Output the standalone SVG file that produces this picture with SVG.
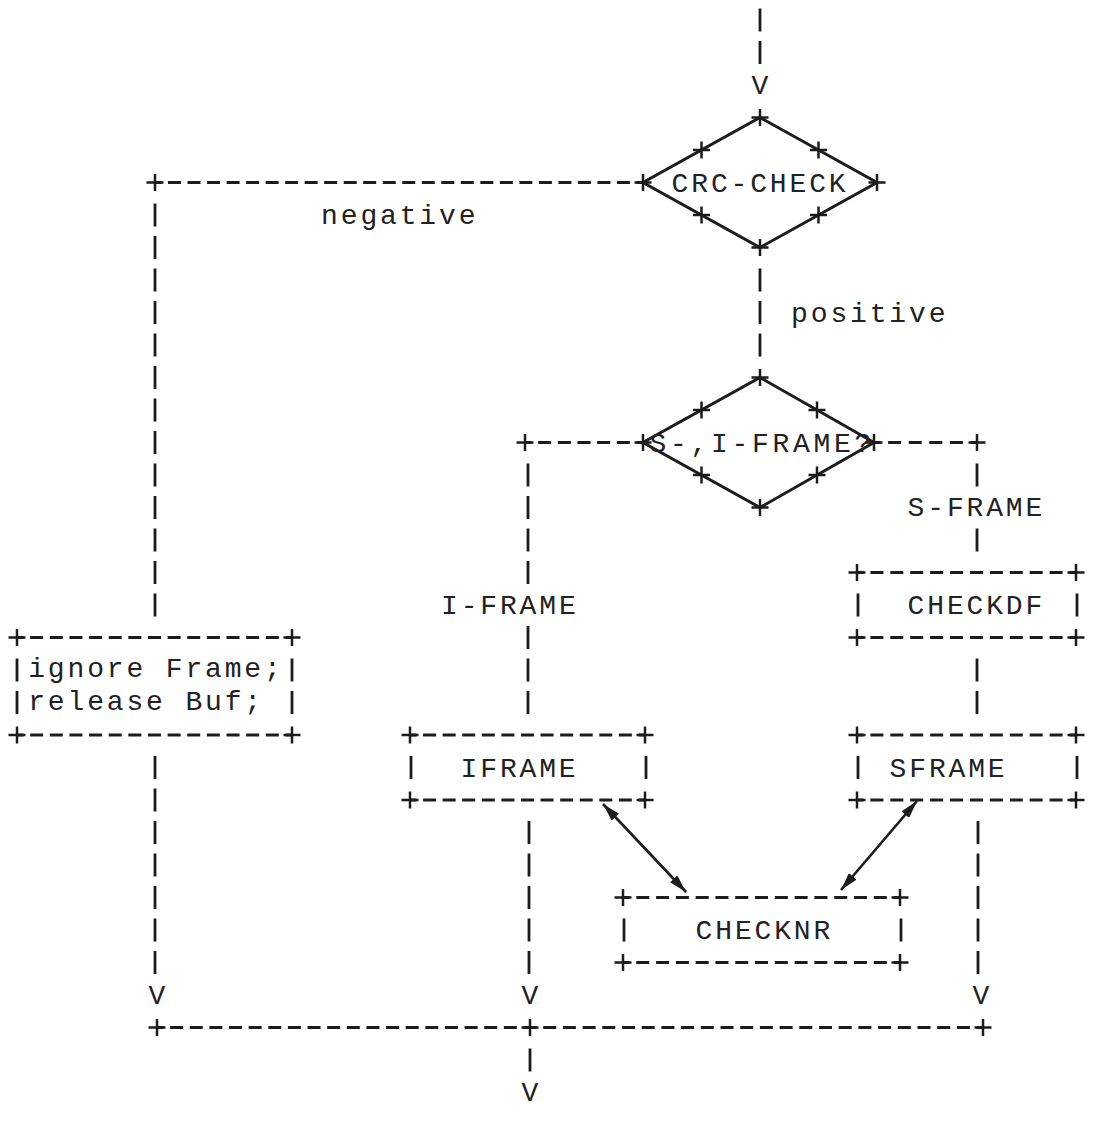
<svg xmlns="http://www.w3.org/2000/svg" xmlns:xlink="http://www.w3.org/1999/xlink" width="1094" height="1131" viewBox="0 0 1094 1131">
<style>
.ln{stroke:#1c1c1c;stroke-width:2.8;fill:none}
.v{stroke:#1c1c1c;stroke-width:2.8;fill:none;stroke-dasharray:23 9.5}
.bar{stroke:#1c1c1c;stroke-width:2.8}
.pl{stroke:#1c1c1c;stroke-width:2.5;fill:none}
.dia{stroke:#1c1c1c;stroke-width:3;fill:none;stroke-linejoin:miter}
.arr{stroke:#1c1c1c;stroke-width:2.6;fill:none;marker-start:url(#ah);marker-end:url(#ah)}
text{font-family:"Liberation Mono","DejaVu Sans Mono",monospace;font-size:28px;fill:#222222;letter-spacing:2.85px}
</style>
<defs>
<path id="plus" d="M-8.5 0H8.5M0 -8.5V8.5"/>
<marker id="ah" viewBox="0 0 18 10" refX="18" refY="5" markerWidth="18" markerHeight="10" markerUnits="userSpaceOnUse" orient="auto-start-reverse">
<path d="M0 0L18 5L0 10z" fill="#1c1c1c"/>
</marker>
</defs>
<rect width="1094" height="1131" fill="#ffffff"/>

<g id="connectors">
<!-- vertical dashed runs -->
<line class="v" x1="760" y1="8.5" x2="760" y2="64"/>
<line class="v" x1="760" y1="268.5" x2="760" y2="356.5"/>
<line class="v" x1="155" y1="203.5" x2="155" y2="616.5"/>
<line class="v" x1="155" y1="756" x2="155" y2="974"/>
<line class="v" x1="528" y1="463.5" x2="528" y2="584"/>
<line class="v" x1="528" y1="626" x2="528" y2="714"/>
<line class="v" x1="529" y1="821" x2="529" y2="974"/>
<line class="v" x1="977" y1="463.5" x2="977" y2="486.5"/>
<line class="v" x1="977" y1="528.5" x2="977" y2="551.5"/>
<line class="v" x1="977" y1="658.5" x2="977" y2="714"/>
<line class="v" x1="978" y1="821" x2="978" y2="974"/>
<line class="v" x1="530" y1="1048.5" x2="530" y2="1071.5"/>
<!-- horizontal dashed runs -->
<line class="ln" x1="155" y1="182.5" x2="643" y2="182.5" stroke-dasharray="13 6.52" stroke-dashoffset="6.5"/>
<line class="ln" x1="525" y1="442.5" x2="643" y2="442.5" stroke-dasharray="13 6.67" stroke-dashoffset="6.5"/>
<line class="ln" x1="874" y1="442.5" x2="977" y2="442.5" stroke-dasharray="13 7.6" stroke-dashoffset="6.5"/>
<line class="ln" x1="157" y1="1027.5" x2="530" y2="1027.5" stroke-dasharray="13 6.63" stroke-dashoffset="6.5"/>
<line class="ln" x1="530" y1="1027.5" x2="983" y2="1027.5" stroke-dasharray="13 6.7" stroke-dashoffset="6.5"/>
<!-- junction crosses -->
<use href="#plus" class="pl" x="155" y="182.5"/>
<use href="#plus" class="pl" x="525" y="442.5"/>
<use href="#plus" class="pl" x="977" y="442.5"/>
<use href="#plus" class="pl" x="157" y="1027.5"/>
<use href="#plus" class="pl" x="530" y="1027.5"/>
<use href="#plus" class="pl" x="983" y="1027.5"/>
<!-- V arrowheads -->
<text x="751.6" y="94">V</text>
<text x="148.6" y="1004">V</text>
<text x="521.6" y="1004">V</text>
<text x="972.6" y="1004">V</text>
<text x="521.6" y="1101">V</text>
<!-- labels -->
<text x="321.1" y="224">negative</text>
<text x="791.1" y="322">positive</text>
<text x="441" y="614">I-FRAME</text>
<text x="907.6" y="516">S-FRAME</text>
<!-- double arrows -->
<line class="arr" x1="603" y1="804" x2="686" y2="892"/>
<line class="arr" x1="917" y1="801" x2="841" y2="890"/>
</g>

<g id="crc-check">
<polygon class="dia" points="760,117.5 877,182.5 760,247.5 643,182.5"/>
<use href="#plus" class="pl" x="760" y="117.5"/>
<use href="#plus" class="pl" x="877" y="182.5"/>
<use href="#plus" class="pl" x="760" y="247.5"/>
<use href="#plus" class="pl" x="643" y="182.5"/>
<use href="#plus" class="pl" x="701.5" y="150"/>
<use href="#plus" class="pl" x="818.5" y="150"/>
<use href="#plus" class="pl" x="701.5" y="215"/>
<use href="#plus" class="pl" x="818.5" y="215"/>
<text x="671.6" y="192">CRC-CHECK</text>
</g>

<g id="frame-type">
<polygon class="dia" points="760,377.5 874,442.5 760,507.5 643,442.5"/>
<use href="#plus" class="pl" x="760" y="377.5"/>
<use href="#plus" class="pl" x="874" y="442.5"/>
<use href="#plus" class="pl" x="760" y="507.5"/>
<use href="#plus" class="pl" x="643" y="442.5"/>
<use href="#plus" class="pl" x="701.5" y="410"/>
<use href="#plus" class="pl" x="817" y="410"/>
<use href="#plus" class="pl" x="701.5" y="475"/>
<use href="#plus" class="pl" x="817" y="475"/>
<text x="649.6" y="452" style="letter-spacing:3.7px">S-,I-FRAME?</text>
</g>

<g id="ignore-frame">
<line class="ln" x1="17" y1="637.5" x2="292" y2="637.5" stroke-dasharray="13 6.64" stroke-dashoffset="6.5"/>
<line class="ln" x1="17" y1="735" x2="292" y2="735" stroke-dasharray="13 6.64" stroke-dashoffset="6.5"/>
<use href="#plus" class="pl" x="17" y="637.5"/>
<use href="#plus" class="pl" x="292" y="637.5"/>
<use href="#plus" class="pl" x="17" y="735"/>
<use href="#plus" class="pl" x="292" y="735"/>
<line class="bar" x1="17" y1="658.5" x2="17" y2="681.5"/>
<line class="bar" x1="292" y1="658.5" x2="292" y2="681.5"/>
<line class="bar" x1="17" y1="691" x2="17" y2="714"/>
<line class="bar" x1="292" y1="691" x2="292" y2="714"/>
<text x="28.2" y="677">ignore Frame;</text>
<text x="28.2" y="710">release Buf;</text>
</g>

<g id="iframe">
<line class="ln" x1="410" y1="735" x2="645" y2="735" stroke-dasharray="13 6.58" stroke-dashoffset="6.5"/>
<line class="ln" x1="410" y1="800" x2="645" y2="800" stroke-dasharray="13 6.58" stroke-dashoffset="6.5"/>
<use href="#plus" class="pl" x="410" y="735"/>
<use href="#plus" class="pl" x="645" y="735"/>
<use href="#plus" class="pl" x="410" y="800"/>
<use href="#plus" class="pl" x="645" y="800"/>
<line class="bar" x1="411" y1="756" x2="411" y2="779"/>
<line class="bar" x1="646" y1="756" x2="646" y2="779"/>
<text x="460.6" y="777">IFRAME</text>
</g>

<g id="checkdf">
<line class="ln" x1="857" y1="572.5" x2="1076" y2="572.5" stroke-dasharray="13 6.91" stroke-dashoffset="6.5"/>
<line class="ln" x1="857" y1="637.5" x2="1076" y2="637.5" stroke-dasharray="13 6.91" stroke-dashoffset="6.5"/>
<use href="#plus" class="pl" x="857" y="572.5"/>
<use href="#plus" class="pl" x="1076" y="572.5"/>
<use href="#plus" class="pl" x="857" y="637.5"/>
<use href="#plus" class="pl" x="1076" y="637.5"/>
<line class="bar" x1="858" y1="593.5" x2="858" y2="616.5"/>
<line class="bar" x1="1077" y1="593.5" x2="1077" y2="616.5"/>
<text x="907.6" y="614">CHECKDF</text>
</g>

<g id="sframe">
<line class="ln" x1="857" y1="735" x2="1076" y2="735" stroke-dasharray="13 6.91" stroke-dashoffset="6.5"/>
<line class="ln" x1="857" y1="800" x2="1076" y2="800" stroke-dasharray="13 6.91" stroke-dashoffset="6.5"/>
<use href="#plus" class="pl" x="857" y="735"/>
<use href="#plus" class="pl" x="1076" y="735"/>
<use href="#plus" class="pl" x="857" y="800"/>
<use href="#plus" class="pl" x="1076" y="800"/>
<line class="bar" x1="858" y1="756" x2="858" y2="779"/>
<line class="bar" x1="1077" y1="756" x2="1077" y2="779"/>
<text x="889.6" y="777">SFRAME</text>
</g>

<g id="checknr">
<line class="ln" x1="623" y1="897.5" x2="900" y2="897.5" stroke-dasharray="13 6.79" stroke-dashoffset="6.5"/>
<line class="ln" x1="623" y1="962.5" x2="900" y2="962.5" stroke-dasharray="13 6.79" stroke-dashoffset="6.5"/>
<use href="#plus" class="pl" x="623" y="897.5"/>
<use href="#plus" class="pl" x="900" y="897.5"/>
<use href="#plus" class="pl" x="623" y="962.5"/>
<use href="#plus" class="pl" x="900" y="962.5"/>
<line class="bar" x1="624" y1="918.5" x2="624" y2="941.5"/>
<line class="bar" x1="901" y1="918.5" x2="901" y2="941.5"/>
<text x="695.6" y="939">CHECKNR</text>
</g>
</svg>
